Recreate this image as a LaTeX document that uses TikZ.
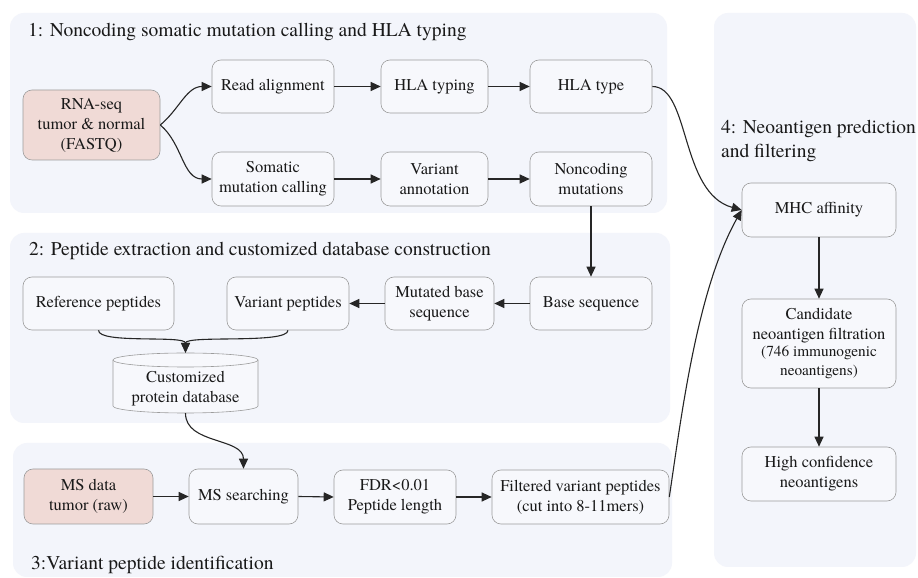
\documentclass[tikz,border=0pt]{standalone}
\usepackage{fontspec}
\setmainfont{TeX Gyre Termes}
\usetikzlibrary{arrows.meta}
\definecolor{panelc}{HTML}{F3F5FB}
\definecolor{nodec}{HTML}{F7F8FC}
\definecolor{pinkc}{HTML}{F0DAD6}
\definecolor{bordc}{HTML}{9C9C9C}
\newcommand\mynodefont{\fontsize{16.5}{20}\selectfont}
\newcommand\mytitlefont{\fontsize{19.5}{24}\selectfont}
\newcommand\mysmallfont{\fontsize{15.3}{17.5}\selectfont}
\begin{document}
\begin{tikzpicture}[x=1pt,y=1pt,
 panel/.style={fill=panelc, draw=none, rounded corners=14pt},
 box/.style={draw=bordc, line width=0.6pt, fill=nodec, rounded corners=9pt, align=center, font=\mynodefont, inner sep=2pt, text=black!90},
 pinkbox/.style={box, fill=pinkc},
 ptitle/.style={font=\mytitlefont, inner sep=0pt, text=black!90},
 arr/.style={-{Triangle[length=10pt,width=9pt]}, line width=1.1pt, black!85}]
\useasboundingbox (0,0) rectangle (918,578);
\fill[white] (0,0) rectangle (918,578);
% panels
\fill[panel] (10,365) rectangle (667,565);
\fill[panel] (10,155) rectangle (670,345);
\fill[panel] (13,1) rectangle (672,135);
\fill[panel] (714,11) rectangle (916,565);
% titles
\node[ptitle, anchor=base west] (t1) at (28,541) {1: Noncoding somatic mutation calling and HLA typing};
\node[ptitle, anchor=base west] (t2) at (29,322) {2: Peptide extraction and customized database construction};
\node[ptitle, anchor=base west] (t3) at (31,8) {3:Variant peptide identification};
\node[ptitle, anchor=north west, align=left] (t4) at (721,458.5) {4: Neoantigen prediction\\and filtering};
% panel 1 nodes
\node[pinkbox, minimum width=137, minimum height=70] (rna) at (91.5,453) {RNA-seq\\tumor \& normal\\(FASTQ)};
\node[box, minimum width=122, minimum height=53] (read) at (273,491.5) {Read alignment};
\node[box, minimum width=107, minimum height=53] (hlat) at (434.5,491.5) {HLA typing};
\node[box, minimum width=122, minimum height=53] (hla) at (591,491.5) {HLA type};
\node[box, minimum width=122, minimum height=54] (som) at (273,399) {Somatic\\mutation calling};
\node[box, minimum width=107, minimum height=54] (van) at (434.5,399) {Variant\\annotation};
\node[box, minimum width=122, minimum height=54] (nonc) at (591,399) {Noncoding\\mutations};
% panel 2 nodes
\node[box, minimum width=122, minimum height=53] (base) at (591,274.5) {Base sequence};
\node[box, minimum width=109, minimum height=53] (mut) at (439.5,274.5) {Mutated base\\sequence};
\node[box, minimum width=122, minimum height=53] (varp) at (288,274.5) {Variant peptides};
\node[box, minimum width=151, minimum height=53] (refp) at (98.5,274.5) {Reference peptides};
% cylinder
\fill[nodec] (113,218) -- (113,172) arc[start angle=180, end angle=360, x radius=72.5, y radius=7] -- (258,218) arc[start angle=0, end angle=180, x radius=72.5, y radius=7] -- cycle;
\draw[bordc, line width=0.6pt] (113,218) -- (113,172) arc[start angle=180, end angle=360, x radius=72.5, y radius=7] -- (258,218);
\draw[bordc, line width=0.6pt] (185.5,218) ellipse[x radius=72.5, y radius=7];
\node[minimum width=145, minimum height=60, inner sep=0] (db) at (185.5,195) {};
\node[font=\mynodefont, align=center, inner sep=0, text=black!90] (dbt) at (185.5,189) {Customized\\protein database};
% panel 3 nodes
\node[pinkbox, minimum width=129, minimum height=55] (msd) at (88.5,81.5) {MS data\\tumor (raw)};
\node[box, minimum width=109, minimum height=55] (mss) at (243.5,81.5) {MS searching};
\node[box, minimum width=122, minimum height=54] (fdr) at (395,81) {FDR<0.01\\Peptide length};
\node[box, minimum width=177, minimum height=54] (filt) at (580.5,81) {Filtered variant peptides\\(cut into 8-11mers)};
% panel 4 nodes
\node[box, minimum width=154, minimum height=54] (mhc) at (819,368) {MHC affinity};
\node[box, minimum width=154, minimum height=89] (cand) at (819,234.5) {Candidate\\neoantigen filtration\\[-3pt]{\mysmallfont (746 immunogenic}\\[-1pt]{\mysmallfont neoantigens)}};
\node[box, minimum width=154, minimum height=54] (high) at (819,104) {High confidence\\neoantigens};
% connectors
\draw[arr] (rna.east) to[out=40,in=180] (read.west);
\draw[arr] (rna.east) to[out=-40,in=180] (som.west);
\draw[arr] (read.east) -- (hlat.west);
\draw[arr] (hlat.east) -- (hla.west);
\draw[arr] (som.east) -- (van.west);
\draw[arr] (van.east) -- (nonc.west);
\draw[arr] (nonc.south) -- (base.north);
\draw[arr] (base.west) -- (mut.east);
\draw[arr] (mut.west) -- (varp.east);
\draw[arr] (refp.south) .. controls +(0,-14) and +(0,18) .. (db.north);
\draw[arr] (varp.south) .. controls +(0,-14) and +(0,18) .. (db.north);
\draw[arr] (db.south) to[out=-90,in=90] (mss.north);
\draw[arr] (msd.east) -- (mss.west);
\draw[arr] (mss.east) -- (fdr.west);
\draw[arr] (fdr.east) -- (filt.west);
\draw[arr] (hla.east) .. controls +(38,0) and +(-62,17) .. (mhc.west);
\draw[arr] (filt.east) .. controls +(12,80) and +(-45,-80) .. (mhc.west);
\draw[arr] (mhc.south) -- (cand.north);
\draw[arr] (cand.south) -- (high.north);
\end{tikzpicture}
\end{document}
